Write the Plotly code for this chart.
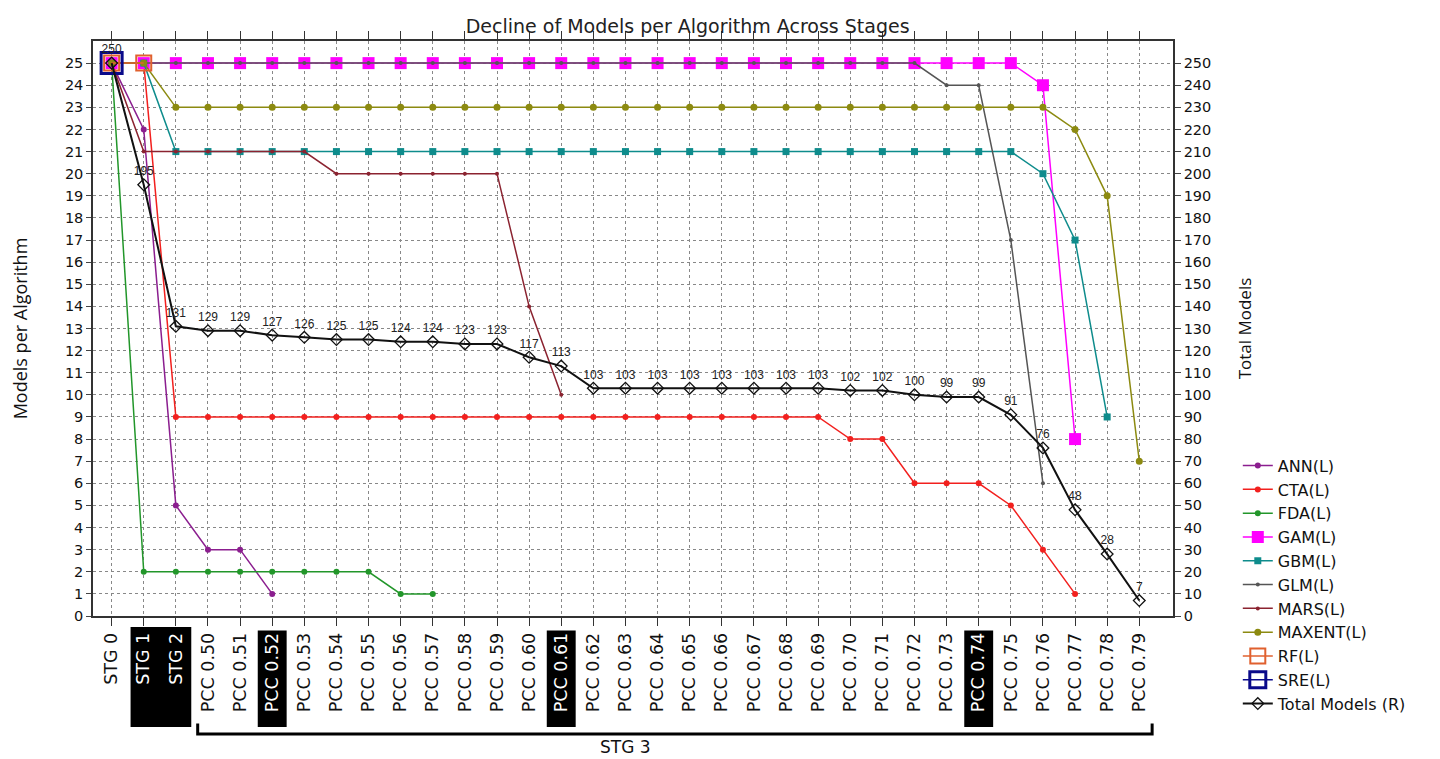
import plotly.graph_objects as go

categories = ["STG 0", "STG 1", "STG 2"] + [f"PCC 0.{n}" for n in range(50, 80)]
highlight = {"STG 1", "STG 2", "PCC 0.52", "PCC 0.61", "PCC 0.74"}

ann = [25, 22, 5, 3, 3, 1]
cta = [25, 25, 9] + [9] * 20 + [8, 8, 6, 6, 6, 5, 3, 1]
fda = [25, 2, 2, 2, 2, 2, 2, 2, 2, 1, 1]
gam = [25, 25, 25] + [25] * 26 + [24, 8]
gbm = [25, 25, 21] + [21] * 26 + [20, 17, 9]
glm = [25, 25, 25] + [25] * 23 + [24, 24, 17, 6]
mars = [25, 21, 21, 21, 21, 21, 21, 20, 20, 20, 20, 20, 20, 14, 10]
maxent = [25, 25, 23] + [23] * 27 + [22, 19, 7]
rf = [25, 25]
sre = [25]
total = [250, 195, 131, 129, 129, 127, 126, 125, 125, 124, 124, 123, 123, 117, 113,
         103, 103, 103, 103, 103, 103, 103, 103, 102, 102, 100, 99, 99, 91, 76, 48, 28, 7]

left_ticks = list(range(0, 26))
right_ticks = list(range(0, 260, 10))

FONT = "DejaVu Sans, Verdana, sans-serif"
LFONT = "Liberation Sans, Arial, sans-serif"

fig = go.Figure()

def add_series(name, vals, color, symbol, size, mline=0, width=1.5):
    fig.add_trace(go.Scatter(
        x=categories[:len(vals)], y=vals, name=name, mode="lines+markers",
        line=dict(color=color, width=width),
        marker=dict(symbol=symbol, size=size, color=color,
                    line=dict(width=mline, color=color)),
        yaxis="y",
    ))

add_series("ANN(L)", ann, "#8B1E8F", "circle", 6)
add_series("CTA(L)", cta, "#F2201E", "circle", 6)
add_series("FDA(L)", fda, "#22962A", "circle", 6)
add_series("GAM(L)", gam, "#FF00FF", "square", 12)
add_series("GBM(L)", gbm, "#0E8C8C", "square", 7)
add_series("GLM(L)", glm, "#555555", "circle", 4)
add_series("MARS(L)", mars, "#8B2330", "circle", 4)
add_series("MAXENT(L)", maxent, "#8C8A10", "circle", 7)
add_series("RF(L)", rf, "#E0602E", "square-open", 15, mline=2)
add_series("SRE(L)", sre, "#0A0A8A", "square-open", 21, mline=3)

fig.add_trace(go.Scatter(
    x=categories, y=total, name="Total Models (R)", mode="lines+markers+text",
    line=dict(color="#111111", width=2),
    marker=dict(symbol="diamond-open", size=9, color="#111111", line=dict(width=1.3)),
    text=[str(v) for v in total], textposition="top center",
    textfont=dict(family=LFONT, size=12, color="#222222"),
    yaxis="y2",
))

ticktext = []
for c in categories:
    if c in highlight:
        ticktext.append(f'<span style="color:white">{c}</span>')
    else:
        ticktext.append(c)

shapes = []
box_top, box_bot = -0.019, -0.193
shapes.append(dict(type="rect", xref="x", yref="paper", x0=0.59, x1=2.48,
                   y0=box_bot, y1=box_top, fillcolor="black", line=dict(width=0), layer="below"))
for c in ["PCC 0.52", "PCC 0.61", "PCC 0.74"]:
    i = categories.index(c)
    shapes.append(dict(type="rect", xref="x", yref="paper", x0=i - 0.45, x1=i + 0.45,
                       y0=box_bot, y1=box_top - 0.006, fillcolor="black", line=dict(width=0), layer="below"))
bx0, bx1 = 2.68, 32.4
shapes.append(dict(type="path", xref="x", yref="paper",
                   path=f"M {bx0},-0.187 L {bx0},-0.205 L {bx1},-0.205 L {bx1},-0.187",
                   line=dict(color="black", width=3)))

fig.update_layout(
    width=1440, height=759,
    margin=dict(l=85, r=275, t=33, b=151, autoexpand=False),
    paper_bgcolor="white", plot_bgcolor="white",
    title=dict(text="Decline of Models per Algorithm Across Stages", x=0.472, xanchor="center",
               y=0.976, yanchor="middle", font=dict(family=FONT, size=19, color="#222222")),
    font=dict(family=FONT, size=15, color="#111111"),
    showlegend=True,
    legend=dict(x=1.06, xanchor="left", y=0.291, yanchor="top", font=dict(family=FONT, size=16),
                bgcolor="rgba(0,0,0,0)", tracegroupgap=0, itemsizing="trace"),
    xaxis=dict(type="category", categoryorder="array", categoryarray=categories,
               tickmode="array", tickvals=categories, ticktext=ticktext, tickangle=-90,
               range=[-0.58, 33.05], showline=True, linecolor="#333333", linewidth=1.5,
               mirror="ticks", ticks="outside", ticklen=8, tickcolor="#333333",
               showgrid=True, gridcolor="#888888", griddash="dot", gridwidth=1,
               automargin=False,
               tickfont=dict(family=FONT, size=17.5, color="#111111")),
    yaxis=dict(range=[0, 26], tickmode="array", tickvals=left_ticks,
               title=dict(text="Models per Algorithm", font=dict(family="Open Sans, sans-serif", size=18), standoff=36),
               showline=True, linecolor="#333333", linewidth=1.5, ticks="outside", ticklen=5,
               showgrid=True, gridcolor="#888888", griddash="dot", gridwidth=1, zeroline=False,
               automargin=False,
               tickfont=dict(family=FONT, size=14.5, color="#111111")),
    yaxis2=dict(range=[0, 260], overlaying="y", side="right", tickmode="array", tickvals=right_ticks,
                title=dict(text="Total Models", font=dict(family="Open Sans, sans-serif", size=17), standoff=29),
                showline=True, linecolor="#333333", linewidth=1.5, ticks="outside", ticklen=6,
                showgrid=False, zeroline=False, automargin=False,
                tickfont=dict(family=FONT, size=14.5, color="#111111")),
    shapes=shapes,
    annotations=[dict(text="STG 3", xref="x", yref="paper", x=16, y=-0.248, showarrow=False,
                      font=dict(family=FONT, size=17, color="#111111"))],
)

fig.write_html("out.html")
